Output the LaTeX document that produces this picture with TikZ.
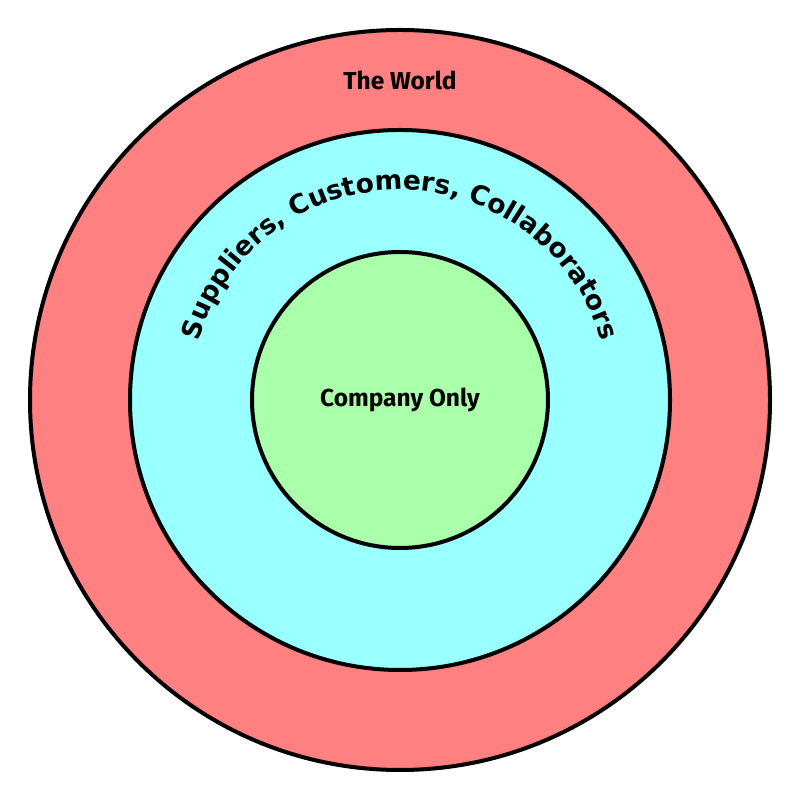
\documentclass[tikz,border=0pt]{standalone}
\usepackage{fontspec}
\setmainfont{Fira Sans}
\newfontfamily\djb{DejaVu Sans}[BoldFont={DejaVu Sans Bold}]
\usetikzlibrary{decorations.text}
\definecolor{worldc}{HTML}{FF8080}
\definecolor{partc}{HTML}{99FFFF}
\definecolor{compc}{HTML}{AAFFAA}
\tikzset{ring/.style={draw=black,line width=4pt}}
\begin{document}
\begin{tikzpicture}[x=1pt,y=1pt]
\useasboundingbox (0,0) rectangle (800,800);
\fill[white] (0,0) rectangle (800,800);
\coordinate (c) at (400,400);
\node[ring,circle,fill=worldc,minimum size=740pt,inner sep=0pt] (world) at (c) {};
\node[ring,circle,fill=partc,minimum size=540pt,inner sep=0pt] (part) at (c) {};
\node[ring,circle,fill=compc,minimum size=296pt,inner sep=0pt] (comp) at (c) {};
\node[font=\fontsize{24.5}{28}\selectfont\bfseries] (tw) at (400,720) {The World};
\node[font=\fontsize{24.5}{28}\selectfont\bfseries] (co) at (400,400) {Company Only};
\path[decorate,decoration={text along path,text align=center,
  text={|\djb\bfseries\fontsize{26.5}{30}\selectfont|Suppliers, Customers, Collaborators}}]
  (c) ++(165:210) arc[start angle=165,end angle=15,radius=210];
\end{tikzpicture}
\end{document}
